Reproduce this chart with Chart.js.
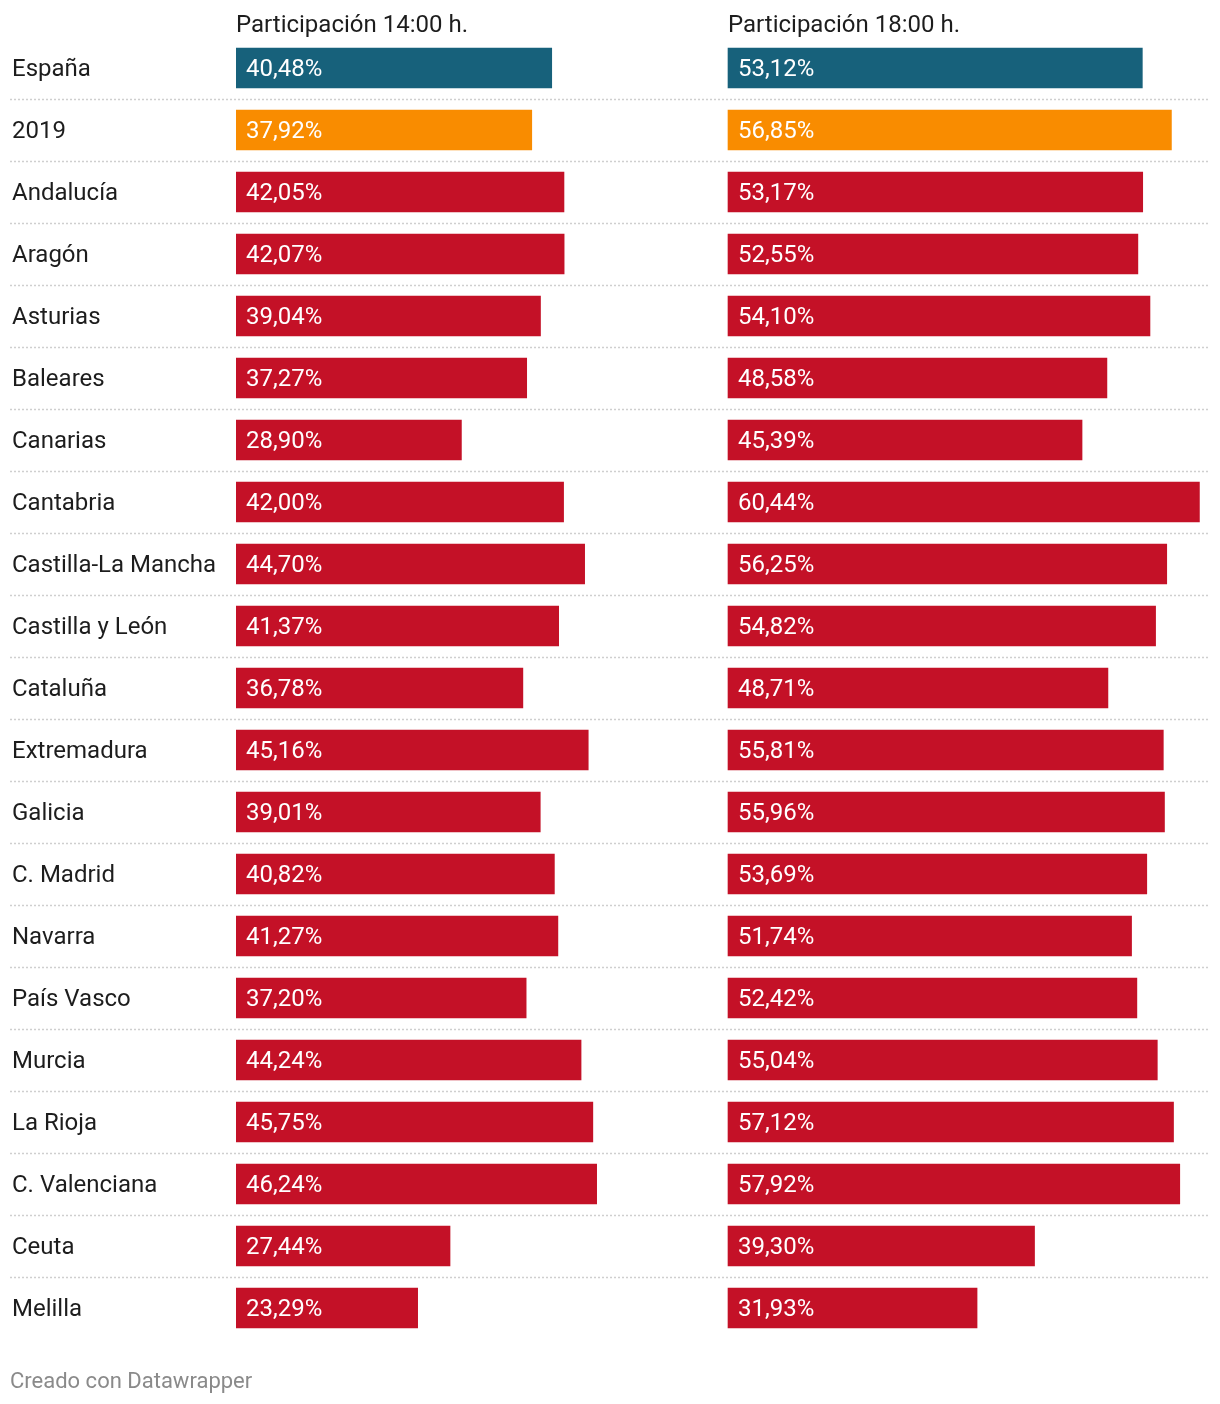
<!DOCTYPE html>
<html>
<head>
<meta charset="utf-8">
<script src="https://cdn.jsdelivr.net/npm/chart.js@4/dist/chart.umd.min.js"></script>
<style>
  html, body { margin: 0; padding: 0; background: #ffffff; }
  #wrap { position: relative; width: 1220px; height: 1404px; }
  #footer { position: absolute; left: 10px; top: 1368px; font-family: Roboto, sans-serif; font-size: 22px; color: #8a8a8a; }
</style>
</head>
<body>
<div id="wrap">
  <canvas id="c" width="1220" height="1404"></canvas>
  <div id="footer">Creado con Datawrapper</div>
</div>
<script>
const categories = ["España", "2019", "Andalucía", "Aragón", "Asturias", "Baleares", "Canarias", "Cantabria",
  "Castilla-La Mancha", "Castilla y León", "Cataluña", "Extremadura", "Galicia", "C. Madrid", "Navarra",
  "País Vasco", "Murcia", "La Rioja", "C. Valenciana", "Ceuta", "Melilla"];
const part1400 = [40.48, 37.92, 42.05, 42.07, 39.04, 37.27, 28.90, 42.00, 44.70, 41.37, 36.78, 45.16, 39.01,
  40.82, 41.27, 37.20, 44.24, 45.75, 46.24, 27.44, 23.29];
const part1800 = [53.12, 56.85, 53.17, 52.55, 54.10, 48.58, 45.39, 60.44, 56.25, 54.82, 48.71, 55.81, 55.96,
  53.69, 51.74, 52.42, 55.04, 57.12, 57.92, 39.30, 31.93];
const columnTitles = ["Participación 14:00 h.", "Participación 18:00 h."];

const FONT = "Roboto, 'Noto Sans', sans-serif";
const colorFor = (i) => i === 0 ? "#17617b" : (i === 1 ? "#f98c00" : "#c41127");
const barColors = categories.map((_, i) => colorFor(i));
const fmt = (v) => v.toFixed(2).replace(".", ",") + "%";

const labelsPlugin = {
  id: "labelsPlugin",
  beforeDatasetsDraw(chart) {
    const ctx = chart.ctx;
    const y = chart.scales.y;
    const step = y.getPixelForValue(1) - y.getPixelForValue(0);
    ctx.save();
    ctx.strokeStyle = "#cfcfcf";
    ctx.lineWidth = 1.5;
    ctx.setLineDash([2, 2]);
    for (let i = 0; i < categories.length - 1; i++) {
      const yy = Math.round(y.getPixelForValue(i) + step / 2) + 0.5;
      ctx.beginPath();
      ctx.moveTo(10, yy);
      ctx.lineTo(chart.chartArea.right, yy);
      ctx.stroke();
    }
    ctx.restore();
  },
  afterDatasetsDraw(chart) {
    const ctx = chart.ctx;
    ctx.save();
    ctx.font = "24px " + FONT;
    ctx.textBaseline = "middle";
    ctx.textAlign = "left";
    ctx.fillStyle = "#ffffff";
    chart.data.datasets.forEach((ds, di) => {
      const meta = chart.getDatasetMeta(di);
      meta.data.forEach((bar, i) => {
        ctx.fillText(fmt(ds.data[i]), bar.base + 10, bar.y + 2);
      });
    });
    ctx.fillStyle = "#1d1d1d";
    ctx.textBaseline = "alphabetic";
    const xs = [chart.scales.x1.getPixelForValue(0), chart.scales.x2.getPixelForValue(0)];
    xs.forEach((x, k) => ctx.fillText(columnTitles[k], x, 32));
    ctx.restore();
  }
};

const hiddenX = (min, max) => ({
  type: "linear", position: "bottom", stack: "cols", stackWeight: 1,
  min, max, display: true,
  grid: { display: false, drawTicks: false },
  border: { display: false },
  ticks: { display: false }
});

new Chart(document.getElementById("c"), {
  type: "bar",
  data: {
    labels: categories,
    datasets: [
      { label: columnTitles[0], data: part1400, xAxisID: "x1", backgroundColor: barColors, grouped: false, barThickness: 40 },
      { label: columnTitles[1], data: part1800, xAxisID: "x2", backgroundColor: barColors, grouped: false, barThickness: 40 }
    ]
  },
  options: {
    indexAxis: "y",
    responsive: false,
    animation: false,
    devicePixelRatio: 1,
    layout: { padding: { left: 12, right: 12, top: 37, bottom: 65 } },
    plugins: { legend: { display: false }, tooltip: { enabled: false } },
    scales: {
      y: {
        type: "category",
        position: "left",
        afterFit: (s) => { s.width = 224; },
        grid: { display: false, drawTicks: false },
        border: { display: false },
        ticks: { crossAlign: "far", padding: 0, labelOffset: 2, color: "#1d1d1d", font: { family: FONT, size: 24 } }
      },
      x1: hiddenX(0, 62.31),
      x2: hiddenX(-0.77, 61.54)
    }
  },
  plugins: [labelsPlugin]
});
</script>
</body>
</html>
